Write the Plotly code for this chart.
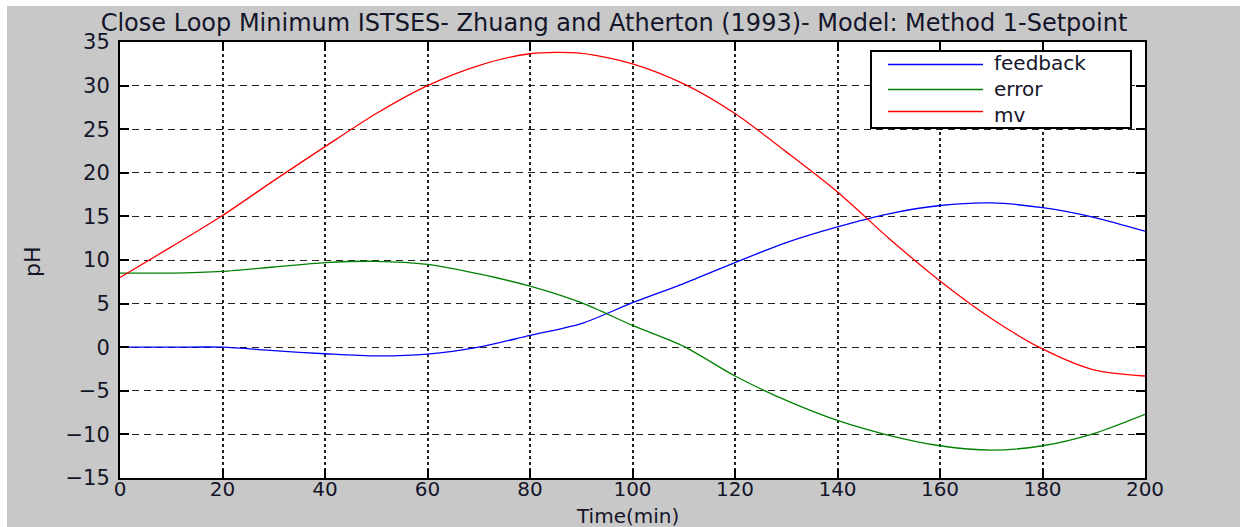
import plotly.graph_objects as go

# Closed-loop response sampled every 10 minutes
time_min = [0, 10, 20, 30, 40, 50, 60, 70, 80, 90, 100,
            110, 120, 130, 140, 150, 160, 170, 180, 190, 200]
feedback = [0.0, 0.0, 0.0, -0.4, -0.75, -1.0, -0.8, 0.0, 1.35, 2.7, 5.1,
            7.3, 9.7, 12.0, 13.8, 15.3, 16.25, 16.55, 16.0, 14.9, 13.3]
error = [8.5, 8.5, 8.7, 9.2, 9.7, 9.85, 9.5, 8.4, 7.0, 5.1, 2.5,
         0.1, -3.3, -6.1, -8.4, -10.1, -11.3, -11.8, -11.3, -9.9, -7.7]
mv = [8.0, 11.5, 15.1, 19.1, 23.0, 26.8, 30.0, 32.3, 33.65, 33.7, 32.5,
      30.2, 26.8, 22.4, 17.8, 12.5, 7.6, 3.3, -0.2, -2.6, -3.3]

series_names = ["feedback", "error", "mv"]
series_colors = ["#0000ff", "#008000", "#ff0000"]
series_values = [feedback, error, mv]

title_text = "Close Loop Minimum ISTSES- Zhuang and Atherton (1993)- Model: Method 1-Setpoint"
x_title = "Time(min)"
y_title = "pH"

FONT = "DejaVu Sans"
TEXT_COLOR = "#15152a"
W, H = 1244, 527
L, R, T, B = 120, 1145, 42, 478  # plot-area edges in pixels


def px_x(p):
    return (p - L) / (R - L)


def px_y(p):
    return (B - p) / (B - T)


fig = go.Figure()
for name, color, vals in zip(series_names, series_colors, series_values):
    fig.add_trace(go.Scatter(
        x=time_min, y=vals, name=name, mode="lines",
        line=dict(color=color, width=1.3, shape="spline", smoothing=0.8),
    ))

axis_common = dict(
    showline=True, linecolor="black", linewidth=2, mirror="ticks",
    ticks="inside", ticklen=9, tickwidth=2, tickcolor="black",
    zeroline=False, showgrid=True, gridcolor="#222222",
    tickfont=dict(family=FONT, size=20, color=TEXT_COLOR),
)

fig.update_xaxes(range=[0, 200], tick0=0, dtick=20,
                 griddash="3px,3px", gridwidth=1.6, ticklabelstandoff=-8,
                 **axis_common)
fig.update_yaxes(range=[-15, 35], tick0=-15, dtick=5,
                 griddash="7px,5px", gridwidth=1.2, ticklabelstandoff=4,
                 tickfont=dict(family=FONT, size=21, color=TEXT_COLOR),
                 **{k: v for k, v in axis_common.items() if k != "tickfont"})

shapes = [
    # grey figure panel with a thin white border
    dict(type="rect", xref="paper", yref="paper",
         x0=px_x(7), x1=px_x(1240), y0=px_y(527), y1=px_y(6),
         fillcolor="#c8c8c8", line=dict(width=0), layer="below"),
    dict(type="rect", xref="paper", yref="paper",
         x0=0, x1=1, y0=0, y1=1,
         fillcolor="white", line=dict(width=0), layer="below"),
    # legend box
    dict(type="rect", xref="paper", yref="paper",
         x0=px_x(871), x1=px_x(1131), y0=px_y(128), y1=px_y(51),
         fillcolor="white", line=dict(color="black", width=2), layer="above"),
]

legend_line_y = [64.5, 89.5, 111.5]
for color, ly in zip(series_colors, legend_line_y):
    shapes.append(dict(type="line", xref="paper", yref="paper",
                       x0=px_x(888), x1=px_x(983), y0=px_y(ly), y1=px_y(ly),
                       line=dict(color=color, width=1.3), layer="above"))

annotations = [
    dict(text="<br>".join(series_names), xref="paper", yref="paper",
         x=px_x(992), y=px_y(89), xanchor="left", yanchor="middle",
         align="left", showarrow=False,
         font=dict(family=FONT, size=20, color=TEXT_COLOR)),
    dict(text=x_title, xref="paper", yref="paper",
         x=px_x(627), y=px_y(516), xanchor="center", yanchor="middle",
         showarrow=False, font=dict(family=FONT, size=20, color=TEXT_COLOR)),
    dict(text=y_title, xref="paper", yref="paper",
         x=px_x(32), y=px_y(262), xanchor="center", yanchor="middle",
         textangle=-90, showarrow=False,
         font=dict(family=FONT, size=22, color=TEXT_COLOR)),
]

fig.update_layout(
    width=W, height=H,
    margin=dict(l=L, r=W - R, t=T, b=H - B),
    paper_bgcolor="white", plot_bgcolor="white",
    showlegend=False,
    title=dict(text=title_text, x=614 / W, xanchor="center",
               y=1 - 23 / H, yanchor="middle", yref="container",
               font=dict(family=FONT, size=24, color=TEXT_COLOR)),
    shapes=shapes, annotations=annotations,
)

fig.write_html("out.html")
